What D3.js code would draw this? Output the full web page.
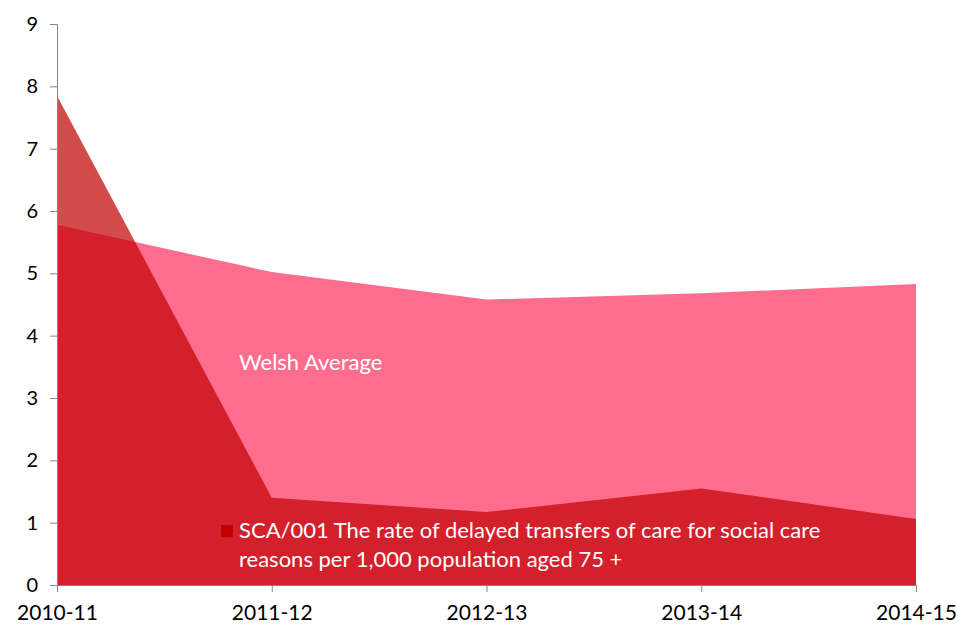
<!DOCTYPE html>
<html>
<head>
<meta charset="utf-8">
<script src="https://cdn.jsdelivr.net/npm/d3@7"></script>
<style>
  body { margin: 0; background: #fff; }
  text { font-family: "Lato", "Open Sans", sans-serif; }
</style>
</head>
<body>
<script>
// data
const years = ["2010-11", "2011-12", "2012-13", "2013-14", "2014-15"];
const welshAvg = [5.78, 5.02, 4.58, 4.68, 4.83];
const sca001 = [7.85, 1.40, 1.17, 1.55, 1.06];
const yTicks = [0, 1, 2, 3, 4, 5, 6, 7, 8, 9];

const width = 958, height = 624;
const margin = {left: 57, right: 42, top: 24, bottom: 39};

const svg = d3.select("body").append("svg")
  .attr("width", width)
  .attr("height", height);

const x = d3.scalePoint()
  .domain(years)
  .range([margin.left, width - margin.right]);

const y = d3.scaleLinear()
  .domain([0, 9])
  .range([height - margin.bottom, margin.top]);

const area = vals => d3.area()
  .x((d, i) => x(years[i]))
  .y0(y(0))
  .y1(d => y(d))(vals);

// Welsh average (back)
svg.append("path")
  .attr("d", area(welshAvg))
  .attr("fill", "#ff6d8e");

// SCA/001, semi transparent on top
svg.append("path")
  .attr("d", area(sca001))
  .attr("fill", "#c00000")
  .attr("fill-opacity", 0.7);

// axes
const yAxis = svg.append("g")
  .attr("transform", `translate(${margin.left},0)`)
  .call(d3.axisLeft(y).tickValues(yTicks).tickSize(7).tickPadding(12).tickFormat(d3.format("d")));

const xAxis = svg.append("g")
  .attr("transform", `translate(0,${y(0)})`)
  .call(d3.axisBottom(x).tickSize(7).tickPadding(10).tickSizeOuter(0));

[yAxis, xAxis].forEach(g => {
  g.select(".domain").attr("stroke", "#868686");
  g.selectAll(".tick line").attr("stroke", "#868686");
  g.selectAll(".tick text")
    .attr("fill", "#000")
    .style("font-size", "20px")
    .style("font-family", "Lato, sans-serif");
});
xAxis.selectAll(".tick text").attr("dy", "0.84em").style("font-size", "21px");

// labels
svg.append("text")
  .attr("x", 239)
  .attr("y", 370)
  .attr("fill", "#fff")
  .style("font-size", "22px")
  .text("Welsh Average");

svg.append("rect")
  .attr("x", 221)
  .attr("y", 525)
  .attr("width", 12)
  .attr("height", 12)
  .attr("fill", "#c00000");

const legend = svg.append("text")
  .attr("x", 239)
  .attr("y", 538)
  .attr("fill", "#fff")
  .style("font-size", "22px");
legend.append("tspan").attr("x", 239)
  .text("SCA/001 The rate of delayed transfers of care for social care");
legend.append("tspan").attr("x", 239).attr("dy", 29)
  .text("reasons per 1,000 population aged 75 +");
</script>
</body>
</html>
